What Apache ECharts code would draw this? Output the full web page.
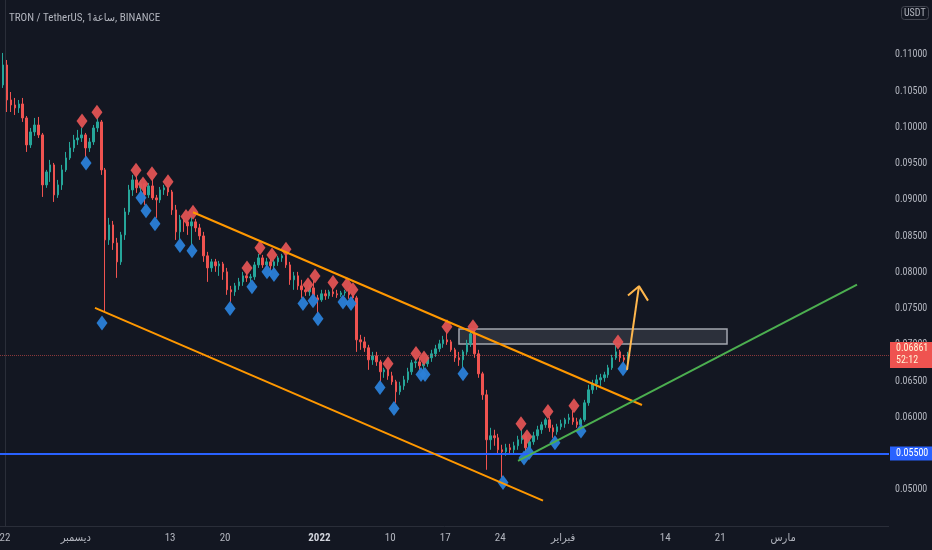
<!DOCTYPE html>
<html>
<head>
<meta charset="utf-8">
<script src="https://cdn.jsdelivr.net/npm/echarts@6.0.0/dist/echarts.min.js"></script>
<style>
  html, body { margin: 0; padding: 0; background: #131722; }
  #chart { width: 932px; height: 550px; }
</style>
</head>
<body>
<div id="chart"></div>
<script>
// ---------- DATA ----------
const chartTitle = 'TRON / TetherUS, 1ساعة, BINANCE';
const quoteUnit = 'USDT';

// x values are days since 22 Nov 2021 (00:00)
const xTickDays   = [0, 9, 21, 28, 40, 49, 56, 63, 71, 84, 91, 99];
const xTickLabels = ['22', 'ديسمبر', '13', '20', '2022', '10', '17', '24', 'فبراير', '14', '21', 'مارس'];

// 12-hour candles starting 21 Nov 2021 12:00 : [open, high, low, close]
const firstCandleStart = -0.5;
const candleStep = 0.5;
const ohlc = [
  [0.10586,0.11028,0.10545,0.10862],[0.10862,0.10931,0.10213,0.10379],[0.10379,0.10489,0.10213,0.10310],[0.10310,0.10407,0.10172,0.10269],
  [0.10269,0.10379,0.10200,0.10324],[0.10324,0.10407,0.10076,0.10131],[0.10131,0.10158,0.09662,0.09759],[0.09759,0.09993,0.09717,0.09938],
  [0.09938,0.10131,0.09883,0.10034],[0.10034,0.10145,0.09855,0.09897],[0.09897,0.09924,0.09041,0.09207],[0.09207,0.09414,0.09166,0.09386],
  [0.09386,0.09552,0.09248,0.09483],[0.09483,0.09510,0.08972,0.09069],[0.09069,0.09276,0.09028,0.09207],[0.09207,0.09483,0.09138,0.09414],
  [0.09414,0.09662,0.09386,0.09579],[0.09579,0.09800,0.09552,0.09717],[0.09717,0.09897,0.09662,0.09828],[0.09828,0.09966,0.09759,0.09855],
  [0.09855,0.09993,0.09800,0.09897],[0.09897,0.09924,0.09593,0.09717],[0.09717,0.09855,0.09662,0.09800],[0.09800,0.10034,0.09759,0.09993],
  [0.09993,0.10145,0.09938,0.10076],[0.10076,0.10103,0.09345,0.09414],[0.09414,0.09441,0.07455,0.08448],[0.08448,0.08752,0.08379,0.08655],
  [0.08655,0.08710,0.08310,0.08407],[0.08407,0.08476,0.07924,0.08145],[0.08145,0.08559,0.08103,0.08517],[0.08517,0.08890,0.08448,0.08834],
  [0.08834,0.09207,0.08793,0.09138],[0.09138,0.09345,0.09055,0.09276],[0.09276,0.09359,0.09097,0.09166],[0.09166,0.09276,0.09097,0.09221],
  [0.09221,0.09234,0.08931,0.09069],[0.09069,0.09234,0.09028,0.09193],[0.09193,0.09290,0.09000,0.09028],[0.09028,0.09069,0.08752,0.09000],
  [0.09000,0.09179,0.08959,0.09138],[0.09138,0.09207,0.09069,0.09166],[0.09166,0.09193,0.09055,0.09110],[0.09110,0.09138,0.08793,0.08862],
  [0.08862,0.08931,0.08448,0.08559],[0.08559,0.08793,0.08448,0.08724],[0.08724,0.08752,0.08559,0.08697],[0.08697,0.08710,0.08517,0.08641],
  [0.08641,0.08766,0.08379,0.08697],[0.08697,0.08738,0.08559,0.08614],[0.08614,0.08669,0.08448,0.08503],[0.08503,0.08559,0.08145,0.08228],
  [0.08228,0.08283,0.07869,0.08062],[0.08062,0.08186,0.08007,0.08145],[0.08145,0.08186,0.08007,0.08090],[0.08090,0.08159,0.07952,0.08117],
  [0.08117,0.08145,0.07897,0.08007],[0.08007,0.08062,0.07690,0.07759],[0.07759,0.07814,0.07593,0.07731],[0.07731,0.07855,0.07676,0.07814],
  [0.07814,0.07924,0.07759,0.07869],[0.07869,0.08007,0.07814,0.07952],[0.07952,0.08007,0.07869,0.07924],[0.07924,0.07979,0.07869,0.07938],
  [0.07938,0.08145,0.07897,0.08103],[0.08103,0.08255,0.08062,0.08200],[0.08200,0.08241,0.08062,0.08103],[0.08103,0.08200,0.08076,0.08145],
  [0.08145,0.08186,0.08034,0.08090],[0.08090,0.08172,0.08034,0.08145],[0.08145,0.08228,0.08090,0.08200],[0.08200,0.08255,0.08145,0.08228],
  [0.08228,0.08255,0.08062,0.08103],[0.08103,0.08145,0.07828,0.07897],[0.07897,0.08007,0.07759,0.07952],[0.07952,0.08007,0.07759,0.07814],
  [0.07814,0.07897,0.07648,0.07759],[0.07759,0.07786,0.07676,0.07731],[0.07731,0.07828,0.07676,0.07786],[0.07786,0.07883,0.07621,0.07648],
  [0.07648,0.07690,0.07441,0.07621],[0.07621,0.07759,0.07593,0.07704],[0.07704,0.07759,0.07621,0.07676],[0.07676,0.07759,0.07635,0.07731],
  [0.07731,0.07786,0.07662,0.07704],[0.07704,0.07759,0.07648,0.07690],[0.07690,0.07745,0.07662,0.07717],[0.07717,0.07759,0.07676,0.07731],
  [0.07731,0.07759,0.07635,0.07690],[0.07690,0.07720,0.07621,0.07648],[0.07648,0.07676,0.06903,0.07069],[0.07069,0.07138,0.06931,0.07041],
  [0.07041,0.07110,0.06903,0.06959],[0.06959,0.07000,0.06655,0.06793],[0.06793,0.06903,0.06724,0.06848],[0.06848,0.06903,0.06710,0.06765],
  [0.06765,0.06793,0.06490,0.06628],[0.06628,0.06683,0.06545,0.06655],[0.06655,0.06683,0.06517,0.06572],[0.06572,0.06628,0.06448,0.06490],
  [0.06490,0.06517,0.06200,0.06352],[0.06352,0.06490,0.06310,0.06434],[0.06434,0.06572,0.06379,0.06517],[0.06517,0.06683,0.06476,0.06628],
  [0.06628,0.06793,0.06586,0.06752],[0.06752,0.06821,0.06683,0.06765],[0.06765,0.06821,0.06655,0.06710],[0.06710,0.06765,0.06655,0.06738],
  [0.06738,0.06848,0.06697,0.06821],[0.06821,0.06931,0.06765,0.06876],[0.06876,0.07000,0.06834,0.06945],[0.06945,0.07069,0.06903,0.07014],
  [0.07014,0.07124,0.06959,0.07069],[0.07069,0.07179,0.07000,0.07041],[0.07041,0.07069,0.06903,0.06931],[0.06931,0.06959,0.06765,0.06821],
  [0.06821,0.06903,0.06710,0.06793],[0.06793,0.06931,0.06683,0.06903],[0.06903,0.07069,0.06862,0.07014],[0.07014,0.07207,0.06972,0.07152],
  [0.07152,0.07207,0.06821,0.06876],[0.06876,0.06931,0.06545,0.06600],[0.06600,0.06628,0.06241,0.06310],[0.06310,0.06379,0.05276,0.05690],
  [0.05690,0.05855,0.05552,0.05745],[0.05745,0.05828,0.05607,0.05717],[0.05717,0.05772,0.05483,0.05552],[0.05552,0.05621,0.05166,0.05524],
  [0.05524,0.05634,0.05469,0.05579],[0.05579,0.05634,0.05483,0.05552],[0.05552,0.05662,0.05497,0.05607],[0.05607,0.05745,0.05552,0.05690],
  [0.05690,0.05841,0.05634,0.05745],[0.05745,0.05772,0.05524,0.05579],[0.05579,0.05690,0.05560,0.05662],[0.05662,0.05800,0.05621,0.05745],
  [0.05745,0.05883,0.05690,0.05828],[0.05828,0.05938,0.05772,0.05897],[0.05897,0.05993,0.05855,0.05966],[0.05966,0.06007,0.05800,0.05855],
  [0.05855,0.05897,0.05717,0.05800],[0.05800,0.05910,0.05759,0.05869],[0.05869,0.05966,0.05828,0.05910],[0.05910,0.05993,0.05855,0.05966],
  [0.05966,0.06048,0.05910,0.05993],[0.05993,0.06090,0.05897,0.05938],[0.05938,0.05993,0.05855,0.05897],[0.05897,0.05993,0.05883,0.05966],
  [0.05966,0.06241,0.05938,0.06200],[0.06200,0.06448,0.06159,0.06379],[0.06379,0.06517,0.06324,0.06462],[0.06462,0.06586,0.06379,0.06517],
  [0.06517,0.06600,0.06434,0.06545],[0.06545,0.06628,0.06490,0.06586],[0.06586,0.06724,0.06545,0.06683],[0.06683,0.06862,0.06655,0.06821],
  [0.06821,0.07000,0.06793,0.06903],[0.06903,0.06931,0.06765,0.06821],[0.06821,0.06862,0.06752,0.06793],[0.06793,0.06903,0.06765,0.06861]
];

// pivot markers [day, price]
const pivotHighs = [
  [9.80,0.1009],[11.70,0.1021],[16.67,0.0941],[17.56,0.0922],[18.70,0.0936],[20.74,0.0925],[23.03,0.0877],[23.92,0.0883],
  [30.79,0.0806],[32.44,0.0834],[33.97,0.0824],[35.75,0.0832],[38.55,0.0783],[39.44,0.0795],[41.73,0.0786],[43.51,0.0783],
  [44.27,0.0776],[48.73,0.0674],[52.29,0.0688],[53.31,0.0682],[56.23,0.0725],[59.54,0.0725],[65.65,0.0591],[66.41,0.0573],
  [69.08,0.0608],[72.39,0.0616],[77.99,0.0704]
];
const pivotLows = [
  [10.31,0.0951],[12.34,0.0730],[17.30,0.0903],[17.94,0.0885],[19.08,0.0867],[22.26,0.0837],[23.79,0.0830],[28.63,0.0750],
  [31.42,0.0780],[33.33,0.0801],[34.22,0.0797],[37.91,0.0757],[39.19,0.0761],[39.82,0.0736],[43.00,0.0759],[44.02,0.0757],
  [47.71,0.0641],[49.49,0.0612],[52.93,0.0659],[53.44,0.0659],[58.27,0.0660],[63.36,0.0510],[66.03,0.0544],[66.67,0.0551],
  [69.97,0.0565],[73.28,0.0581],[78.63,0.0667]
];

// drawings [day, price]
const upperChannel = [[23.92,0.0883],[81.04,0.0617]];
const lowerChannel = [[11.45,0.0751],[68.45,0.0485]];
const supportLine  = [[65.27,0.0540],[108.4,0.0783]];
const arrowShaft   = [[79.13,0.06655],[80.66,0.0781]];
const arrowHead    = [[79.26,0.0768],[80.66,0.0781],[81.81,0.0761]];
const zoneDays     = [57.76, 91.86];
const zonePrices   = [0.0701, 0.0722];
const supportLevel = 0.055;
const lowerLevel   = 0.045;
const lastPrice    = 0.06861;
const countdown    = '52:12';

// ---------- CHART ----------
const candleData = ohlc.map((r, k) => [firstCandleStart + candleStep * (k + 0.5), r[0], r[3], r[2], r[1]]);
const FONT = '"Liberation Sans Narrow", "Roboto Condensed", "DejaVu Sans Condensed", Roboto, "Noto Sans", sans-serif';
const chart = echarts.init(document.getElementById('chart'), null, { renderer: 'canvas' });

function lineDrawing(name, data, color, width) {
  return {
    name, type: 'line', data, symbol: 'none', silent: true, z: 6,
    lineStyle: { color, width }, animation: false
  };
}

chart.setOption({
  backgroundColor: '#131722',
  animation: false,
  textStyle: { fontFamily: FONT },
  title: [
    { text: chartTitle, left: 4, top: 8,
      textStyle: { color: '#b2b5be', fontSize: 11, fontWeight: 'normal', fontFamily: FONT } },
    { text: quoteUnit, left: 901, top: 6, padding: [2, 3], borderColor: '#434651', borderWidth: 1, borderRadius: 3,
      textStyle: { color: '#b2b5be', fontSize: 10, fontWeight: 'normal', fontFamily: FONT } }
  ],
  grid: { left: 0, right: 43, top: 0, bottom: 24, containLabel: false, outerBoundsMode: 'none' },
  xAxis: {
    type: 'value', min: -0.636, max: 112.47,
    splitLine: { show: false },
    axisTick: { show: false },
    axisLine: { show: true, lineStyle: { color: '#2a2e39', width: 1 } },
    axisLabel: {
      customValues: xTickDays,
      color: '#b2b5be', fontSize: 11, margin: 7, fontFamily: FONT,
      formatter: v => {
        const i = xTickDays.indexOf(v);
        if (i < 0) return '';
        const t = xTickLabels[i];
        return /^\d{4}$/.test(t) ? '{b|' + t + '}' : t;
      },
      rich: { b: { fontWeight: 'bold', color: '#d1d4dc', fontSize: 11, fontFamily: FONT } }
    }
  },
  yAxis: {
    type: 'value', position: 'right', min: 0.045, max: 0.117586, interval: 0.005,
    splitLine: { show: false },
    axisTick: { show: false },
    axisLine: { show: true, lineStyle: { color: '#2a2e39', width: 1 } },
    axisLabel: {
      color: '#b2b5be', fontSize: 10, margin: 6, fontFamily: FONT, showMinLabel: false,
      formatter: v => (v > 0.1126 ? '' : v.toFixed(5))
    }
  },
  graphic: [
    { type: 'rect', left: 889, top: 526, shape: { width: 43, height: 24 }, style: { fill: '#131722' }, z: 100, silent: true }
  ],
  series: [
    {
      name: 'TRXUSDT', type: 'candlestick', data: candleData, barWidth: 2, clip: false, z: 3,
      itemStyle: { color: '#26a69a', color0: '#ef5350', borderColor: '#26a69a', borderColor0: '#ef5350', borderWidth: 1 },
      markLine: {
        silent: true, symbol: ['none', 'none'], animation: false, precision: 5,
        data: [
          { yAxis: supportLevel, lineStyle: { color: '#2962ff', width: 2, type: 'solid' },
            label: { show: true, position: 'end', distance: 1, formatter: supportLevel.toFixed(5),
              backgroundColor: '#2962ff', color: '#ffffff', fontSize: 10, padding: [2, 6, 2, 6], fontFamily: FONT } },
          { yAxis: lastPrice, lineStyle: { color: 'rgba(239,83,80,0.55)', width: 1, type: 'dotted' },
            label: { show: true, position: 'end', distance: 1, formatter: lastPrice.toFixed(5) + '\n' + countdown,
              backgroundColor: '#ef5350', color: '#fff3d6', fontSize: 10, lineHeight: 12, padding: [1, 6, 1, 6], fontFamily: FONT } },
          { yAxis: lowerLevel, lineStyle: { color: '#2962ff', width: 1, opacity: 0 },
            label: { show: true, position: 'end', distance: 1, formatter: lowerLevel.toFixed(5),
              backgroundColor: '#2962ff', color: '#ffffff', fontSize: 10, padding: [2, 6, 2, 6], fontFamily: FONT } }
        ]
      }
    },
    {
      name: 'zone', type: 'line', data: [], silent: true, z: 5,
      markArea: {
        silent: true,
        itemStyle: { color: 'rgba(120,123,134,0.25)', borderColor: '#a3a6af', borderWidth: 1.5 },
        data: [[{ coord: [zoneDays[0], zonePrices[1]] }, { coord: [zoneDays[1], zonePrices[0]] }]]
      }
    },
    {
      name: 'pivotHigh', type: 'scatter', data: pivotHighs, symbol: 'diamond', symbolSize: [11, 15], z: 4,
      silent: true, itemStyle: { color: '#e05354', opacity: 0.95 }
    },
    {
      name: 'pivotLow', type: 'scatter', data: pivotLows, symbol: 'diamond', symbolSize: [11, 15], z: 4,
      silent: true, itemStyle: { color: '#2a80d8', opacity: 0.95 }
    },
    lineDrawing('upperChannel', upperChannel, '#ff9800', 2),
    lineDrawing('lowerChannel', lowerChannel, '#ff9800', 2),
    lineDrawing('supportLine', supportLine, '#4caf50', 2),
    lineDrawing('arrowShaft', arrowShaft, '#ffb74d', 2),
    lineDrawing('arrowHead', arrowHead, '#ffb74d', 2)
  ]
});
</script>
</body>
</html>
